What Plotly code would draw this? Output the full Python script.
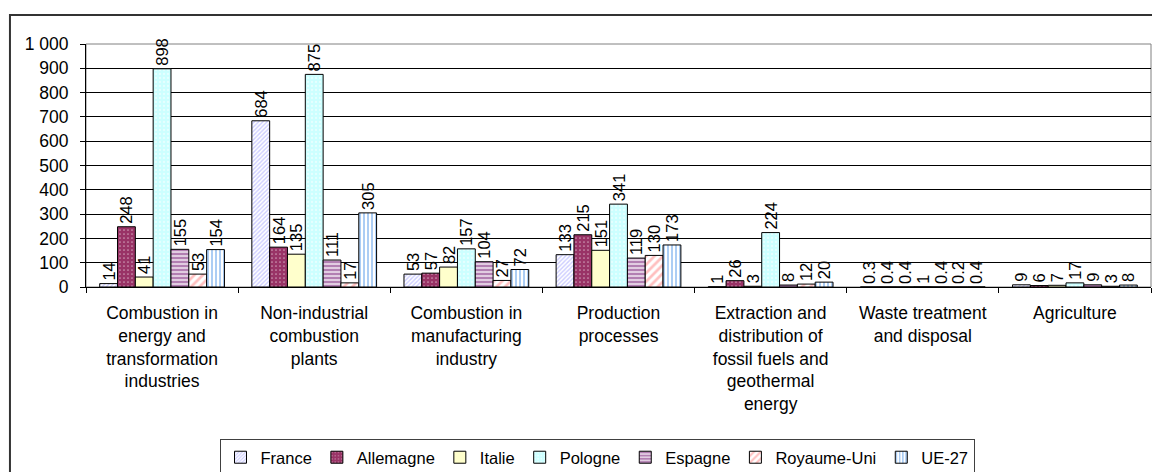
import plotly.graph_objects as go

categories = [
    "Combustion in<br>energy and<br>transformation<br>industries",
    "Non-industrial<br>combustion<br>plants",
    "Combustion in<br>manufacturing<br>industry",
    "Production<br>processes",
    "Extraction and<br>distribution of<br>fossil fuels and<br>geothermal<br>energy",
    "Waste treatment<br>and disposal",
    "Agriculture",
]

france = [14, 684, 53, 133, 1, 0.3, 9]
allemagne = [248, 164, 57, 215, 26, 0.4, 6]
italie = [41, 135, 82, 151, 3, 0.4, 7]
pologne = [898, 875, 157, 341, 224, 1, 17]
espagne = [155, 111, 104, 119, 8, 0.4, 9]
royaume_uni = [53, 17, 27, 130, 12, 0.2, 3]
ue27 = [154, 305, 72, 173, 20, 0.4, 8]

series_names = ["France", "Allemagne", "Italie", "Pologne", "Espagne", "Royaume-Uni", "UE-27"]
series_values = [france, allemagne, italie, pologne, espagne, royaume_uni, ue27]

y_tickvals = [0, 100, 200, 300, 400, 500, 600, 700, 800, 900, 1000]
y_ticktext = ["0", "100", "200", "300", "400", "500", "600", "700", "800", "900", "1 000"]

styles = [
    dict(color="#FFFFFF", pattern=dict(shape="/", fgcolor="#9999FF", bgcolor="#FFFFFF", size=3, solidity=0.45)),
    dict(color="#993366", pattern=dict(shape=".", fgcolor="#FFFFFF", bgcolor="#993366", size=4, solidity=0.15)),
    dict(color="#FFFFCC"),
    dict(color="#CCFFFF", pattern=dict(shape=".", fgcolor="#FFFFFF", bgcolor="#CCFFFF", size=4, solidity=0.25)),
    dict(color="#FFFFFF", pattern=dict(shape="-", fgcolor="#660066", bgcolor="#FFFFFF", size=4, solidity=0.7)),
    dict(color="#FFFFFF", pattern=dict(shape="/", fgcolor="#FF8080", bgcolor="#FFFFFF", size=6, solidity=0.45)),
    dict(color="#FFFFFF", pattern=dict(shape="|", fgcolor="#5A9BEA", bgcolor="#FFFFFF", size=4, solidity=0.5)),
]

FONT = "Liberation Sans, Arial, sans-serif"

W, H = 1152, 472

fig = go.Figure()
for name, vals, st in zip(series_names, series_values, styles):
    marker = dict(line=dict(color="#000000", width=1), **st)
    fig.add_trace(go.Bar(
        name=name,
        x=categories,
        y=vals,
        text=[str(v) for v in vals],
        textposition="outside",
        textangle=-90,
        constraintext="none",
        textfont=dict(family=FONT, size=16.5, color="#000000"),
        cliponaxis=False,
        marker=marker,
    ))

fig.update_layout(
    width=W,
    height=H,
    barmode="group",
    bargap=0.18,
    bargroupgap=0,
    paper_bgcolor="#FFFFFF",
    plot_bgcolor="#FFFFFF",
    margin=dict(l=86, r=1, t=44, b=185, autoexpand=False),
    font=dict(family=FONT, size=17, color="#000000"),
    showlegend=True,
    legend=dict(
        orientation="h",
        xref="container", yref="container",
        x=597 / W, xanchor="center",
        y=1 - 439 / H, yanchor="top",
        bordercolor="#404040", borderwidth=1,
        bgcolor="#FFFFFF",
        font=dict(family=FONT, size=16.5, color="#000000"),
        itemwidth=30,
        traceorder="normal",
    ),
    xaxis=dict(
        automargin=False,
        showline=True, linecolor="#000000", linewidth=1,
        ticks="outside", tickson="boundaries", ticklen=5, tickcolor="#000000",
        showgrid=False,
        tickfont=dict(family=FONT, size=17.5, color="#000000"),
        ticklabelstandoff=10,
    ),
    yaxis=dict(
        automargin=False,
        range=[0, 1000],
        tickvals=y_tickvals,
        ticktext=y_ticktext,
        showline=True, linecolor="#000000", linewidth=1,
        ticks="outside", ticklen=5, tickcolor="#000000",
        showgrid=True, gridcolor="#000000", gridwidth=1,
        zeroline=False,
        tickfont=dict(family=FONT, size=17.5, color="#000000"),
        ticklabelstandoff=8,
    ),
    shapes=[
        dict(type="rect", xref="paper", yref="paper", x0=0, x1=1, y0=0, y1=1,
             line=dict(color="#808080", width=1), layer="below"),
        dict(type="rect", xref="paper", yref="paper", x0=-0.0714, x1=1.2, y0=-1.5, y1=1.119,
             line=dict(color="#333333", width=2)),
    ],
)

# remove the page's default body margin so the figure fills the window exactly
fig.write_html(
    "out.html",
    config={"displayModeBar": False},
    post_script="document.body.style.margin='0px';document.body.style.overflow='hidden';",
)
